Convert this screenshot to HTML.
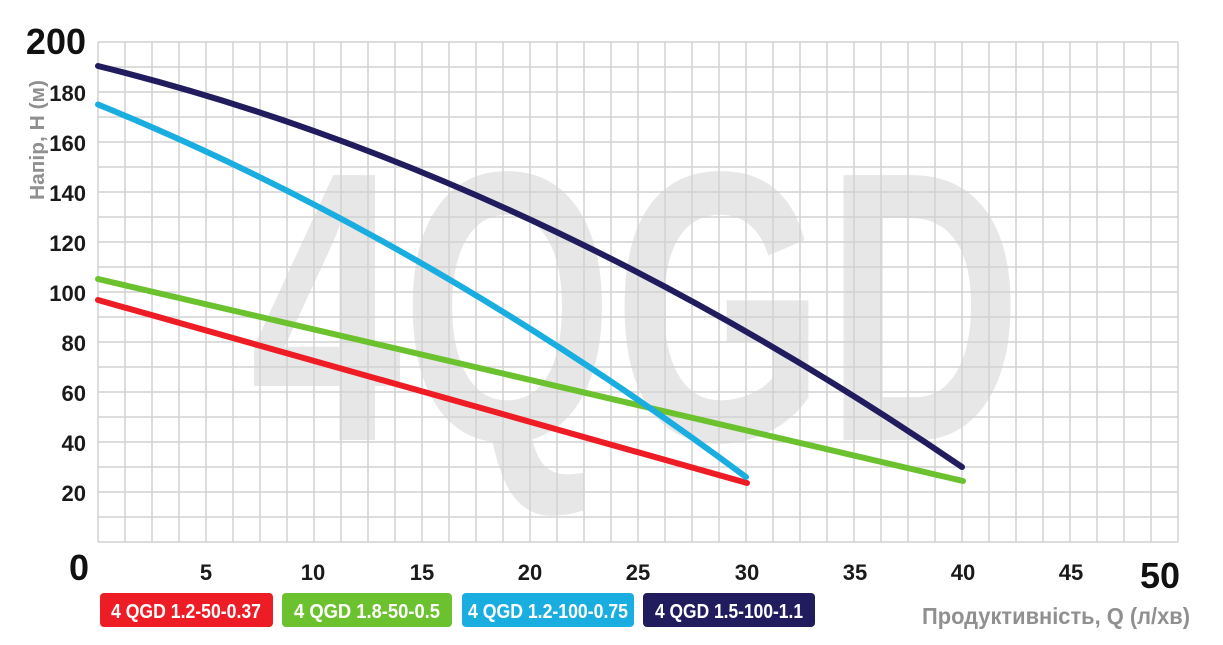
<!DOCTYPE html>
<html><head><meta charset="utf-8"><style>
html,body{margin:0;padding:0;background:#fff;}
svg{display:block;font-family:"Liberation Sans Narrow","Liberation Sans",sans-serif;}
</style></head><body>
<svg width="1223" height="645" viewBox="0 0 1223 645" xmlns="http://www.w3.org/2000/svg">
<text x="250" y="440" font-size="385" font-weight="bold" fill="#e7e7e7" textLength="772" lengthAdjust="spacingAndGlyphs">4QGD</text>
<path stroke="#d2d2d2" stroke-width="1.5" fill="none" d="M98 42V542M125 42V542M152 42V542M179 42V542M206 42V542M233 42V542M260 42V542M287 42V542M314 42V542M341 42V542M368 42V542M395 42V542M422 42V542M449 42V542M476 42V542M503 42V542M530 42V542M557 42V542M584 42V542M611 42V542M638 42V542M665 42V542M692 42V542M719 42V542M746 42V542M773 42V542M800 42V542M827 42V542M854 42V542M881 42V542M908 42V542M935 42V542M962 42V542M989 42V542M1016 42V542M1043 42V542M1070 42V542M1097 42V542M1124 42V542M1151 42V542M1178 42V542
M98 42H1178M98 67H1178M98 92H1178M98 117H1178M98 142H1178M98 167H1178M98 192H1178M98 217H1178M98 242H1178M98 267H1178M98 292H1178M98 317H1178M98 342H1178M98 367H1178M98 392H1178M98 417H1178M98 442H1178M98 467H1178M98 492H1178M98 517H1178M98 542H1178"/>
<g fill="none" stroke-width="6" stroke-linecap="round">
<path d="M98,300 L747,483" stroke="#ee1c25"/>
<path d="M98,279 L963,481" stroke="#6cc12f"/>
<path d="M98,104.5 Q422,236.4 746,477" stroke="#1aaee0"/>
<path d="M98,66 Q530,172.5 962,467" stroke="#211c5e"/>
</g>
<g font-size="22" fill="#1a1a1a" text-anchor="end" font-weight="bold">
<text x="86" y="101">180</text><text x="86" y="151">160</text><text x="86" y="201">140</text>
<text x="86" y="251">120</text><text x="86" y="301">100</text><text x="86" y="351">80</text>
<text x="86" y="401">60</text><text x="86" y="451">40</text><text x="86" y="501">20</text>
</g>
<text x="86" y="54" font-size="36" font-weight="bold" text-anchor="end" fill="#111">200</text>
<text x="89" y="580" font-size="36" font-weight="bold" text-anchor="end" fill="#111">0</text>
<g font-size="22" fill="#1a1a1a" text-anchor="middle" font-weight="bold">
<text x="206" y="580">5</text><text x="313" y="580">10</text><text x="422" y="580">15</text>
<text x="530" y="580">20</text><text x="638" y="580">25</text><text x="747" y="580">30</text>
<text x="855" y="580">35</text><text x="963" y="580">40</text><text x="1071" y="580">45</text>
</g>
<text x="1160" y="588" font-size="36" font-weight="bold" text-anchor="middle" fill="#111">50</text>
<text transform="translate(44,140) rotate(-90)" font-size="20" fill="#909090" text-anchor="middle" font-weight="bold" textLength="120" lengthAdjust="spacingAndGlyphs">Напір, Н (м)</text>
<text x="1190" y="624" font-size="23" fill="#909090" text-anchor="end" font-weight="bold" textLength="268" lengthAdjust="spacingAndGlyphs">Продуктивність, Q (л/хв)</text>
<g font-size="20" fill="#fff" text-anchor="middle" font-weight="bold">
<rect x="100" y="593" width="173" height="34" rx="4" fill="#ee1c25"/><text x="186" y="618" textLength="150" lengthAdjust="spacingAndGlyphs">4 QGD 1.2-50-0.37</text>
<rect x="282" y="593" width="170" height="34" rx="4" fill="#6cc12f"/><text x="367" y="618" textLength="146" lengthAdjust="spacingAndGlyphs">4 QGD 1.8-50-0.5</text>
<rect x="462" y="593" width="172" height="34" rx="4" fill="#1aaee0"/><text x="548" y="618" textLength="160" lengthAdjust="spacingAndGlyphs">4 QGD 1.2-100-0.75</text>
<rect x="643" y="593" width="172" height="34" rx="4" fill="#211c5e"/><text x="729" y="618" textLength="148" lengthAdjust="spacingAndGlyphs">4 QGD 1.5-100-1.1</text>
</g>
</svg>
</body></html>
